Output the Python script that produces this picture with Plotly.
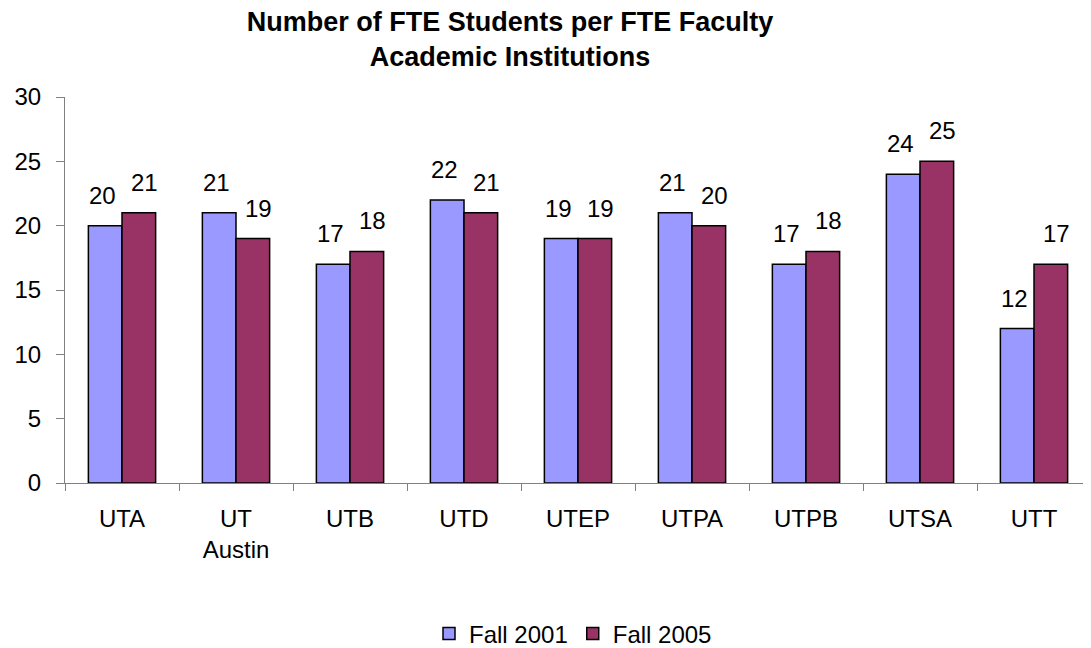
import plotly.graph_objects as go

categories = ["UTA", "UT<br>Austin", "UTB", "UTD", "UTEP", "UTPA", "UTPB", "UTSA", "UTT"]
fall_2001 = [20, 21, 17, 22, 19, 21, 17, 24, 12]
fall_2005 = [21, 19, 18, 21, 19, 20, 18, 25, 17]
y_ticks = [0, 5, 10, 15, 20, 25, 30]

font_family = "Liberation Sans, Arial, sans-serif"
W, H = 1083, 640  # page adds 8px body margin
BARGAP = 0.41

fig = go.Figure()
fig.add_trace(go.Bar(
    x=categories, y=fall_2001, name="Fall 2001",
    marker=dict(color="#9999FF", line=dict(color="black", width=1.5)),
))
fig.add_trace(go.Bar(
    x=categories, y=fall_2005, name="Fall 2005",
    marker=dict(color="#993366", line=dict(color="black", width=1.5)),
))

# value labels above the bars
ml, mr = 57, 0
cat_w = (W - ml - mr) / len(categories)
half_bar = cat_w * (1 - BARGAP) / 4
for cat, v1, v2 in zip(categories, fall_2001, fall_2005):
    fig.add_annotation(x=cat, y=v1, text=str(v1), showarrow=False,
                       xanchor="center", yanchor="bottom",
                       xshift=-half_bar - 3, yshift=15,
                       font=dict(size=24, color="black", family=font_family))
    fig.add_annotation(x=cat, y=v2, text=str(v2), showarrow=False,
                       xanchor="center", yanchor="bottom",
                       xshift=half_bar + 6, yshift=15,
                       font=dict(size=24, color="black", family=font_family))

fig.update_layout(
    width=W, height=H,
    paper_bgcolor="white", plot_bgcolor="white",
    font=dict(family=font_family, size=24, color="black"),
    margin=dict(l=ml, r=mr, t=89, b=165),
    barmode="group", bargap=BARGAP, bargroupgap=0,
    title=dict(
        text="<b>Number of FTE Students per FTE Faculty<br>Academic Institutions</b>",
        x=502 / W, xanchor="center", xref="container",
        y=0.964, yanchor="top", yref="container",
        font=dict(size=27, family=font_family, color="black"),
    ),
    legend=dict(
        orientation="h", x=565 / W, xanchor="center", xref="container",
        y=(H - 626) / H, yanchor="middle", yref="container",
        font=dict(size=24, family=font_family),
        traceorder="normal",
    ),
)
fig.update_xaxes(
    showline=True, linecolor="#808080", linewidth=1,
    ticks="outside", tickson="boundaries", ticklen=7, tickcolor="#808080",
    tickfont=dict(size=24), showgrid=False, ticklabelstandoff=14,
)
fig.update_yaxes(
    range=[0, 30], tickvals=y_ticks, showline=True, linecolor="#808080", linewidth=1,
    ticks="outside", ticklen=8, tickcolor="#808080", showgrid=False, zeroline=False,
    tickfont=dict(size=24), ticklabelstandoff=10,
)

fig.write_html("out.html")
